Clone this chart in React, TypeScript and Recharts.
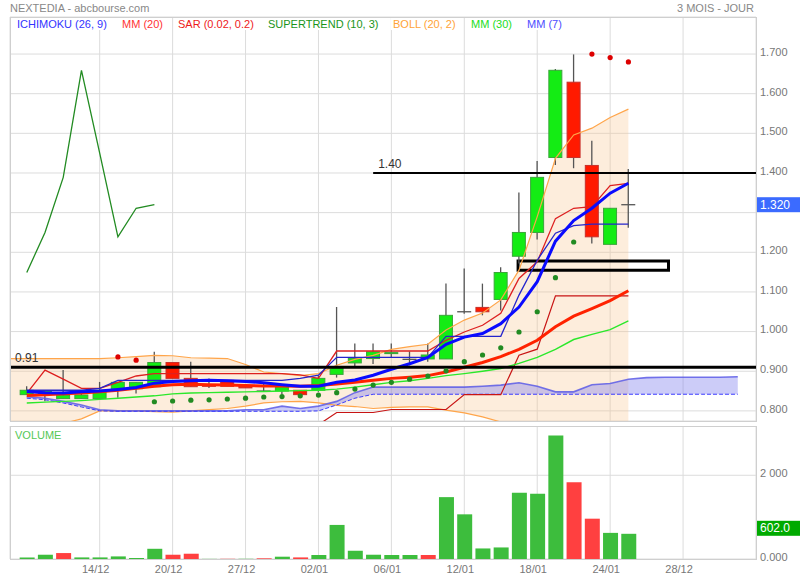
import React from 'react'
import {
  ComposedChart,
  Bar,
  Line,
  Area,
  Scatter,
  XAxis,
  YAxis,
  CartesianGrid,
  ReferenceLine,
  ReferenceArea,
  Cell,
} from 'recharts'

// candles, index 0..33
const opens = [0.841, 0.844, 0.831, 0.831, 0.831, 0.855, 0.856, 0.861, 0.922, 0.882, 0.865, 0.877, 0.862, 0.850, 0.850, 0.852, 0.852, 0.892, 0.921, 0.932, 0.945, 0.930, 0.931, 0.931, 1.050, 1.061, 1.081, 1.190, 1.250, 1.439, 1.629, 1.419, 1.220, 1.320]
const closes = [0.852, 0.850, 0.839, 0.840, 0.852, 0.872, 0.872, 0.922, 0.882, 0.861, 0.862, 0.862, 0.858, 0.850, 0.861, 0.841, 0.882, 0.911, 0.932, 0.949, 0.947, 0.930, 0.941, 1.041, 1.050, 1.050, 1.149, 1.250, 1.389, 1.659, 1.439, 1.239, 1.311, 1.320]
const highs = [0.862, 0.851, 0.903, 0.852, 0.873, 0.872, 0.872, 0.949, 0.922, 0.924, 0.882, 0.877, 0.865, 0.869, 0.861, 0.852, 0.889, 1.062, 0.970, 0.970, 0.970, 0.950, 0.970, 1.121, 1.159, 1.121, 1.162, 1.351, 1.430, 1.662, 1.699, 1.481, 1.311, 1.410]
const lows = [0.841, 0.824, 0.831, 0.831, 0.831, 0.833, 0.844, 0.861, 0.882, 0.861, 0.858, 0.862, 0.858, 0.848, 0.842, 0.841, 0.848, 0.884, 0.911, 0.918, 0.935, 0.915, 0.924, 0.931, 1.045, 1.041, 1.053, 1.172, 1.232, 1.420, 1.412, 1.222, 1.220, 1.262]

const volumes = [38, 102, 142, 38, 38, 62, 24, 244, 102, 126, 3, 5, 5, 16, 55, 38, 95, 814, 197, 102, 95, 95, 95, 1478, 1067, 252, 276, 1580, 1556, 2949, 1834, 963, 624, 602]
const volumeUp = [1, 1, 0, 1, 1, 1, 1, 1, 0, 0, 1, 0, 1, 0, 1, 0, 1, 1, 1, 1, 1, 1, 0, 1, 1, 1, 1, 1, 1, 1, 0, 0, 1, 1]

const mm7 = [0.849, 0.846, 0.845, 0.848, 0.850, 0.854, 0.859, 0.870, 0.874, 0.876, 0.877, 0.876, 0.874, 0.871, 0.866, 0.862, 0.862, 0.872, 0.878, 0.890, 0.905, 0.919, 0.935, 0.968, 0.986, 0.995, 1.020, 1.062, 1.126, 1.228, 1.280, 1.311, 1.349, 1.374]
const mm20 = [0.839, 0.841, 0.843, 0.845, 0.848, 0.852, 0.857, 0.862, 0.866, 0.867, 0.866, 0.865, 0.864, 0.863, 0.863, 0.862, 0.864, 0.868, 0.872, 0.877, 0.882, 0.885, 0.889, 0.898, 0.910, 0.922, 0.937, 0.955, 0.978, 1.012, 1.039, 1.058, 1.078, 1.103]
const mm30 = [0.820, 0.822, 0.824, 0.826, 0.829, 0.832, 0.835, 0.838, 0.843, 0.845, 0.846, 0.847, 0.848, 0.849, 0.850, 0.851, 0.852, 0.855, 0.860, 0.866, 0.872, 0.876, 0.882, 0.889, 0.894, 0.900, 0.907, 0.920, 0.935, 0.955, 0.980, 0.993, 1.005, 1.027]

// ichimoku
const tenkan = [0.844, 0.903, 0.880, 0.857, 0.857, 0.872, 0.888, 0.894, 0.894, 0.894, 0.894, 0.894, 0.894, 0.894, 0.894, 0.891, 0.882, 0.951, 0.951, 0.951, 0.951, 0.951, 0.951, 0.978, 0.999, 1.016, 1.046, 1.134, 1.176, 1.285, 1.311, 1.315, 1.368, 1.374]
const kijun = [0.852, 0.852, 0.852, 0.852, 0.857, 0.877, 0.877, 0.877, 0.877, 0.877, 0.877, 0.877, 0.877, 0.877, 0.877, 0.882, 0.890, 0.935, 0.935, 0.935, 0.935, 0.935, 0.935, 0.988, 0.988, 0.988, 0.988, 1.092, 1.180, 1.248, 1.267, 1.271, 1.271, 1.271]
const spanA = [0.836, 0.832, 0.824, 0.815, 0.803, 0.800, 0.800, 0.800, 0.800, 0.800, 0.800, 0.800, 0.803, 0.803, 0.812, 0.806, 0.812, 0.824, 0.846, 0.860, 0.860, 0.860, 0.860, 0.860, 0.860, 0.862, 0.865, 0.871, 0.862, 0.848, 0.848, 0.866, 0.869, 0.880, 0.884, 0.885, 0.885, 0.885, 0.885, 0.886]
const spanB = [0.832, 0.828, 0.820, 0.810, 0.800, 0.799, 0.799, 0.799, 0.799, 0.799, 0.799, 0.799, 0.799, 0.799, 0.799, 0.799, 0.800, 0.815, 0.832, 0.842, 0.842, 0.842, 0.842, 0.842, 0.842, 0.842, 0.842, 0.842, 0.842, 0.842, 0.842, 0.842, 0.842, 0.842, 0.842, 0.842, 0.842, 0.842, 0.842, 0.842]
const chikou = [1.149, 1.250, 1.389, 1.659, 1.450, 1.239, 1.311, 1.320]

// bollinger, index -1..33
const bbUpper = [0.932, 0.932, 0.932, 0.932, 0.932, 0.932, 0.934, 0.937, 0.940, 0.939, 0.934, 0.933, 0.932, 0.917, 0.898, 0.894, 0.889, 0.894, 0.915, 0.930, 0.940, 0.955, 0.962, 0.968, 1.004, 1.029, 1.047, 1.080, 1.155, 1.290, 1.437, 1.496, 1.513, 1.540, 1.561]
const bbLower = [0.755, 0.757, 0.762, 0.768, 0.780, 0.800, 0.800, 0.800, 0.798, 0.797, 0.800, 0.803, 0.806, 0.812, 0.820, 0.823, 0.824, 0.820, 0.814, 0.811, 0.806, 0.809, 0.810, 0.810, 0.802, 0.795, 0.785, 0.772, 0.740, 0.680, 0.600, 0.570, 0.570, 0.580, 0.590]

// SAR from index 5, supertrend from index 16
const sar = [0.936, 0.928, 0.823, 0.825, 0.827, 0.828, 0.830, 0.832, 0.835, 0.836, 0.838, 0.840, 0.846, 0.855, 0.865, 0.872, 0.880, 0.888, 0.901, 0.924, 0.941, 0.959, 0.999, 1.050, 1.136, 1.226, 1.700, 1.691, 1.680]
const supertrend = [0.765, 0.796, 0.796, 0.796, 0.8035, 0.8035, 0.8035, 0.8035, 0.841, 0.841, 0.841, 0.9405, 0.9557, 1.090, 1.090, 1.090, 1.090, 1.090]

const xTicks = [4, 8, 12, 16, 20, 24, 28, 32, 36]
const xLabels = ['14/12', '20/12', '27/12', '02/01', '06/01', '12/01', '18/01', '24/01', '28/12']
const priceTicks = [0.8, 0.9, 1.0, 1.1, 1.2, 1.3, 1.4, 1.5, 1.6, 1.7]
const volTicks = [0, 2000]

const legend = [
  { text: 'ICHIMOKU (26, 9)', color: '#3333ff', left: 15 },
  { text: 'MM (20)', color: '#ff3333', left: 120 },
  { text: 'SAR (0.02, 0.2)', color: '#ee1a1a', left: 176 },
  { text: 'SUPERTREND (10, 3)', color: '#1a951a', left: 266 },
  { text: 'BOLL (20, 2)', color: '#ffa336', left: 391 },
  { text: 'MM (30)', color: '#22dd22', left: 469 },
  { text: 'MM (7)', color: '#4d4dff', left: 525 },
]

const SAR_START = 5
const ST_START = 16
const LAST = closes.length - 1

const rows: any[] = []
for (let k = -1; k < spanA.length; k++) {
  const r: any = { k }
  if (k >= 0 && k <= LAST) {
    r.o = opens[k]
    r.c = closes[k]
    r.h = highs[k]
    r.l = lows[k]
    r.hl = [lows[k], highs[k]]
    r.mm7 = mm7[k]
    r.mm20 = mm20[k]
    r.mm30 = mm30[k]
    r.tenkan = tenkan[k]
    r.kijun = kijun[k]
    if (k >= ST_START) r.st = supertrend[k - ST_START]
  }
  if (k + 1 < bbUpper.length) {
    r.bbU = bbUpper[k + 1]
    r.bbL = bbLower[k + 1]
    r.bb = [bbLower[k + 1], bbUpper[k + 1]]
  }
  if (k >= 0) {
    r.spanA = spanA[k]
    r.spanB = spanB[k]
    r.cloud = [spanB[k], spanA[k]]
  }
  if (k >= 0 && k < chikou.length) r.chikou = chikou[k]
  rows.push(r)
}

const sarPts = sar.map((v, i) => ({ k: i + SAR_START, v, above: v > highs[i + SAR_START] }))
const volRows = volumes.map((v, k) => ({ k, vol: v }))

const X_DOMAIN: [number, number] = [-0.92, 40]

function Candle(props: any) {
  const { x, y, width, height, payload } = props
  if (!payload || payload.o == null) return null
  const { o, c, h, l } = payload
  const span = h - l || 1
  const py = (v: number) => y + ((h - v) / span) * height
  const cx = x + width / 2
  const top = py(Math.max(o, c))
  const bot = py(Math.min(o, c))
  const up = c >= o
  const doji = Math.abs(c - o) < 0.0015
  return (
    <g>
      <line x1={cx} x2={cx} y1={y} y2={y + height} stroke="#555" strokeWidth={1.3} />
      {doji ? (
        <line x1={x} x2={x + width} y1={top} y2={top} stroke="#555" strokeWidth={1.3} />
      ) : (
        <rect
          x={x + 0.5}
          y={top}
          width={width - 1}
          height={Math.max(bot - top, 1)}
          fill={up ? '#14ec14' : '#ff1a00'}
          stroke={up ? '#3aa53a' : '#c8302a'}
          strokeWidth={1}
        />
      )}
    </g>
  )
}

function SarDot(props: any) {
  const { cx, cy, payload } = props
  return <circle cx={cx} cy={cy} r={2.6} fill={payload.above ? '#dd0000' : '#228b22'} />
}

function PriceTick(props: any) {
  const { x, y, payload } = props
  if (Math.abs(payload.value - 1.3) < 1e-6) return null
  return (
    <text x={x} y={y - 2} dy="0.355em" fontSize={11} fill="#777">
      {payload.value.toFixed(3)}
    </text>
  )
}

function VolTick(props: any) {
  const { x, y, payload } = props
  const label = payload.value === 0 ? '0.000' : '2 000'
  return (
    <text x={x} y={y - 2} dy="0.355em" fontSize={11} fill="#777">
      {label}
    </text>
  )
}

function DateTick(props: any) {
  const { x, y, payload } = props
  const i = xTicks.indexOf(payload.value)
  return (
    <text x={x - 4} y={y + 14} textAnchor="middle" fontSize={11} fill="#777">
      {xLabels[i]}
    </text>
  )
}

function Badge(props: any) {
  const { viewBox, text, color, dy = -7.5 } = props
  if (!viewBox) return null
  const x = viewBox.x + viewBox.width + 1
  const y = viewBox.y + dy
  return (
    <g>
      <rect x={x} y={y} width={44} height={15} fill={color} />
      <text x={x + 3} y={y + 11.5} fontSize={12} fill="#fff">
        {text}
      </text>
    </g>
  )
}

export default function App() {
  return (
    <div
      style={{
        position: 'absolute',
        left: 0,
        top: 0,
        width: 800,
        height: 580,
        background: '#fff',
        fontFamily: '"Liberation Sans", Arial, sans-serif',
        overflow: 'hidden',
      }}
    >
      <div style={{ position: 'absolute', left: 10, top: 2, fontSize: 11, color: '#888' }}>NEXTEDIA - abcbourse.com</div>
      <div style={{ position: 'absolute', right: 46, top: 2, fontSize: 11, color: '#888' }}>3 MOIS - JOUR</div>

      <div style={{ position: 'absolute', left: 0, top: 0 }}>
        <ComposedChart width={800} height={425} data={rows} margin={{ top: 17, right: 0, bottom: 4, left: 10 }}>
          <CartesianGrid stroke="#dcdcdc" />
          <XAxis type="number" dataKey="k" domain={X_DOMAIN} ticks={xTicks} allowDataOverflow hide />
          <YAxis
            orientation="right"
            width={44}
            domain={[0.7745, 1.7934]}
            ticks={priceTicks}
            allowDataOverflow
            axisLine={false}
            tickSize={0}
            tickMargin={4}
            tick={<PriceTick />}
          />
          <Area dataKey="bb" stroke="none" fill="#f8c48a" fillOpacity={0.3} isAnimationActive={false} />
          <Line dataKey="bbU" stroke="#ffa54a" strokeWidth={1.2} dot={false} activeDot={false} isAnimationActive={false} />
          <Line dataKey="bbL" stroke="#ffa54a" strokeWidth={1.2} dot={false} activeDot={false} isAnimationActive={false} />
          <Area dataKey="cloud" stroke="none" fill="#7f7fee" fillOpacity={0.4} isAnimationActive={false} />
          <Line dataKey="spanA" stroke="#5c5ce6" strokeOpacity={0.85} strokeWidth={1.6} dot={false} activeDot={false} isAnimationActive={false} />
          <Line dataKey="spanB" stroke="#3c3cff" strokeWidth={1} strokeDasharray="4 2" dot={false} activeDot={false} isAnimationActive={false} />
          <Bar dataKey="hl" barSize={14} shape={<Candle />} isAnimationActive={false} />
          <Line dataKey="st" stroke="#c81414" strokeWidth={1.2} dot={false} activeDot={false} isAnimationActive={false} />
          <Line dataKey="mm30" stroke="#2be82b" strokeWidth={1.4} dot={false} activeDot={false} isAnimationActive={false} />
          <Line dataKey="tenkan" stroke="#dd2020" strokeWidth={1.3} dot={false} activeDot={false} isAnimationActive={false} />
          <Line dataKey="kijun" stroke="#2424cc" strokeWidth={1.3} dot={false} activeDot={false} isAnimationActive={false} />
          <Line dataKey="mm20" stroke="#ff2200" strokeWidth={3} dot={false} activeDot={false} isAnimationActive={false} />
          <Line dataKey="mm7" stroke="#0a0aff" strokeWidth={3} dot={false} activeDot={false} isAnimationActive={false} />
          <Line dataKey="chikou" stroke="#228b22" strokeWidth={1.3} dot={false} activeDot={false} isAnimationActive={false} />
          <Scatter data={sarPts} dataKey="v" shape={<SarDot />} isAnimationActive={false} />
          <ReferenceLine
            y={0.91}
            stroke="#000"
            strokeWidth={3}
            label={{ value: '0.91', position: 'insideBottomLeft', offset: 5, fontSize: 12, fill: '#333' }}
          />
          <ReferenceLine
            segment={[{ x: 19, y: 1.4 }, { x: 40, y: 1.4 }]}
            stroke="#000"
            strokeWidth={2}
            label={{ value: '1.40', position: 'insideBottomLeft', offset: 5, fontSize: 12, fill: '#333' }}
          />
          <ReferenceArea x1={26.95} x2={35.2} y1={1.155} y2={1.178} fill="none" stroke="#000" strokeWidth={3} />
          <ReferenceLine y={closes[LAST]} stroke="none" label={<Badge text={closes[LAST].toFixed(3)} color="#3b6bff" />} />
        </ComposedChart>
      </div>

      <div style={{ position: 'absolute', left: 0, top: 426 }}>
        <ComposedChart width={800} height={154} data={volRows} margin={{ top: 0, right: 0, bottom: 0, left: 10 }}>
          <CartesianGrid stroke="#dcdcdc" />
          <XAxis
            type="number"
            dataKey="k"
            domain={X_DOMAIN}
            ticks={xTicks}
            allowDataOverflow
            height={21}
            axisLine={false}
            tickSize={0}
            tickMargin={0}
            tick={<DateTick />}
          />
          <YAxis
            orientation="right"
            width={44}
            domain={[0, 3177]}
            ticks={volTicks}
            allowDataOverflow
            axisLine={false}
            tickSize={0}
            tickMargin={4}
            tick={<VolTick />}
          />
          <Bar dataKey="vol" barSize={15} isAnimationActive={false}>
            {volRows.map((r, i) => (
              <Cell key={r.k} fill={volumeUp[i] ? '#3dbd3d' : '#ff4040'} />
            ))}
          </Bar>
          <ReferenceLine
            y={volumes[LAST]}
            stroke="none"
            label={<Badge text={volumes[LAST].toFixed(1)} color="#00aa00" dy={-13} />}
          />
        </ComposedChart>
      </div>

      {/* plot borders */}
      <div style={{ position: 'absolute', left: 10, top: 17, width: 747, height: 405, border: '1px solid #cfcfcf', boxSizing: 'border-box', pointerEvents: 'none' }} />
      <div style={{ position: 'absolute', left: 10, top: 426, width: 747, height: 134, border: '1px solid #cfcfcf', boxSizing: 'border-box', pointerEvents: 'none' }} />

      {legend.map(item => (
        <span
          key={item.text}
          style={{ position: 'absolute', left: item.left, top: 18, fontSize: 11, lineHeight: '12px', color: item.color, background: '#fff', padding: '0 2px' }}
        >
          {item.text}
        </span>
      ))}
      <span style={{ position: 'absolute', left: 15, top: 429, fontSize: 11, lineHeight: '12px', color: '#55c855' }}>VOLUME</span>
    </div>
  )
}
